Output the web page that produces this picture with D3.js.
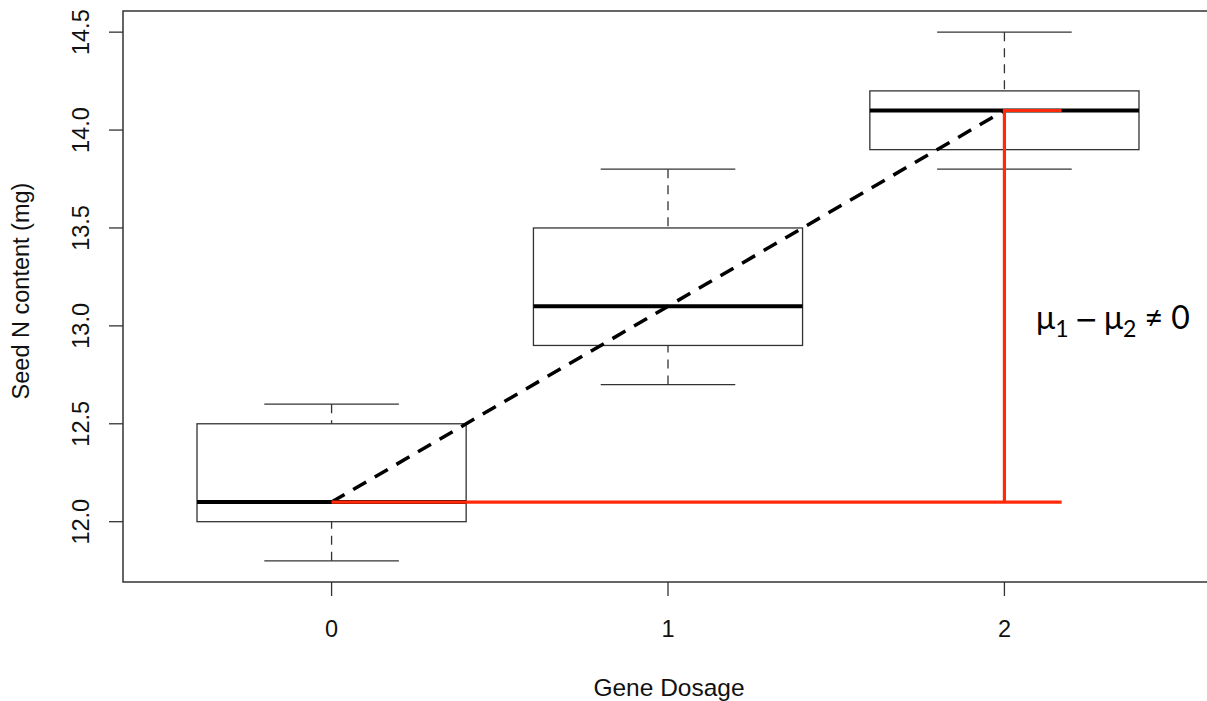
<!DOCTYPE html>
<html>
<head>
<meta charset="utf-8">
<script src="https://cdn.jsdelivr.net/npm/d3@7"></script>
<style>
    body { margin: 0; background: #fff; }
    svg { display: block; }
    text { font-family: "Liberation Sans", Arial, sans-serif; fill: #111; }
</style>
</head>
<body>
<div id="chart"></div>
<script>
// box plot data, one entry per gene dosage
let dosage = [0, 1, 2];
let whiskerLow = [11.8, 12.7, 13.8];
let q1 = [12.0, 12.9, 13.9];
let medians = [12.1, 13.1, 14.1];
let q3 = [12.5, 13.5, 14.2];
let whiskerHigh = [12.6, 13.8, 14.5];

let yTicks = [12.0, 12.5, 13.0, 13.5, 14.0, 14.5];
let redEnd = 2.17;   // where the red bracket stops on the x axis

let width = 1207, height = 701;

let svg = d3.select("#chart").append("svg")
    .attr("width", width)
    .attr("height", height);

// R style extended ranges (4%)
function extend(lo, hi) {
    let d = (hi - lo) * 0.04;
    return [lo - d, hi + d];
}

let x = d3.scaleLinear()
    .domain(extend(dosage[0] - 0.5, dosage[dosage.length - 1] + 0.5))
    .range([123, 1213]);

let y = d3.scaleLinear()
    .domain(extend(d3.min(whiskerLow), d3.max(whiskerHigh)))
    .range([582, 11]);

let boxes = dosage.map((d, i) => ({
    x: d, lo: whiskerLow[i], q1: q1[i], med: medians[i], q3: q3[i], hi: whiskerHigh[i]
}));

let boxHalf = 0.4, capHalf = 0.2;
let lineCol = "#333";

let g = svg.append("g");

// whiskers (dashed)
g.selectAll(".whiskerLo").data(boxes).enter().append("line")
    .attr("x1", d => x(d.x)).attr("x2", d => x(d.x))
    .attr("y1", d => y(d.lo)).attr("y2", d => y(d.q1))
    .attr("stroke", lineCol).attr("stroke-width", 1.3)
    .attr("stroke-dasharray", "9,7");
g.selectAll(".whiskerHi").data(boxes).enter().append("line")
    .attr("x1", d => x(d.x)).attr("x2", d => x(d.x))
    .attr("y1", d => y(d.hi)).attr("y2", d => y(d.q3))
    .attr("stroke", lineCol).attr("stroke-width", 1.3)
    .attr("stroke-dasharray", "9,7");

// caps
["lo", "hi"].forEach(k => {
    g.selectAll(".cap" + k).data(boxes).enter().append("line")
        .attr("x1", d => x(d.x - capHalf)).attr("x2", d => x(d.x + capHalf))
        .attr("y1", d => y(d[k])).attr("y2", d => y(d[k]))
        .attr("stroke", lineCol).attr("stroke-width", 1.3);
});

// boxes
g.selectAll(".box").data(boxes).enter().append("rect")
    .attr("x", d => x(d.x - boxHalf))
    .attr("width", d => x(d.x + boxHalf) - x(d.x - boxHalf))
    .attr("y", d => y(d.q3))
    .attr("height", d => y(d.q1) - y(d.q3))
    .attr("fill", "none")
    .attr("stroke", lineCol).attr("stroke-width", 1.3);

// medians
g.selectAll(".median").data(boxes).enter().append("line")
    .attr("x1", d => x(d.x - boxHalf)).attr("x2", d => x(d.x + boxHalf))
    .attr("y1", d => y(d.med)).attr("y2", d => y(d.med))
    .attr("stroke", "#000").attr("stroke-width", 4);

// dashed trend line through the first and last medians
g.append("line")
    .attr("x1", x(dosage[0])).attr("y1", y(medians[0]))
    .attr("x2", x(dosage[2])).attr("y2", y(medians[2]))
    .attr("stroke", "#000").attr("stroke-width", 3.5)
    .attr("stroke-dasharray", "15,10");

// red bracket
let red = "#ff2a0a";
g.append("path")
    .attr("d", d3.line()([
        [x(dosage[0]), y(medians[0])],
        [x(redEnd), y(medians[0])]
    ]))
    .attr("stroke", red).attr("stroke-width", 3.2).attr("fill", "none");
g.append("path")
    .attr("d", d3.line()([
        [x(dosage[2]), y(medians[0])],
        [x(dosage[2]), y(medians[2])],
        [x(redEnd), y(medians[2])]
    ]))
    .attr("stroke", red).attr("stroke-width", 3.2).attr("fill", "none");

// annotation
let ann = svg.append("text")
    .attr("x", 1036).attr("y", 329)
    .style("font-family", "Lato, 'Open Sans', sans-serif")
    .style("font-size", "32px")
    .style("fill", "#000");
ann.append("tspan").text("\u03bc");
ann.append("tspan").attr("dy", 8).style("font-size", "23px").text("1");
ann.append("tspan").attr("dy", -8).attr("dx", 6)
    .style("font-family", "'DejaVu Sans', sans-serif").style("font-size", "28px")
    .text("\u2212");
ann.append("tspan").attr("dx", 6).text("\u03bc");
ann.append("tspan").attr("dy", 8).style("font-size", "23px").text("2");
ann.append("tspan").attr("dy", -8).text(" \u2260 0");

// frame (right side falls outside the picture)
svg.append("rect")
    .attr("x", x.range()[0]).attr("y", y.range()[1])
    .attr("width", x.range()[1] - x.range()[0])
    .attr("height", y.range()[0] - y.range()[1])
    .attr("fill", "none").attr("stroke", lineCol).attr("stroke-width", 1.5);

// y axis
let yAxis = svg.append("g");
yAxis.selectAll("line").data(yTicks).enter().append("line")
    .attr("x1", 109).attr("x2", 123)
    .attr("y1", d => y(d)).attr("y2", d => y(d))
    .attr("stroke", lineCol).attr("stroke-width", 1.3);
yAxis.selectAll("text").data(yTicks).enter().append("text")
    .attr("transform", d => `translate(89, ${y(d)}) rotate(-90)`)
    .attr("text-anchor", "middle")
    .style("font-size", "23.5px")
    .text(d => d3.format(".1f")(d));

// x axis
let xAxis = svg.append("g");
xAxis.selectAll("line").data(dosage).enter().append("line")
    .attr("x1", d => x(d)).attr("x2", d => x(d))
    .attr("y1", 582).attr("y2", 596)
    .attr("stroke", lineCol).attr("stroke-width", 1.3);
xAxis.selectAll("text").data(dosage).enter().append("text")
    .attr("x", d => x(d)).attr("y", 637)
    .attr("text-anchor", "middle")
    .style("font-size", "23.5px")
    .text(d => d);

// axis titles
svg.append("text")
    .attr("x", 669).attr("y", 696)
    .attr("text-anchor", "middle")
    .style("font-size", "24.5px")
    .text("Gene Dosage");

svg.append("text")
    .attr("transform", "translate(29, 291) rotate(-90)")
    .attr("text-anchor", "middle")
    .style("font-size", "23.5px")
    .text("Seed N content (mg)");
</script>
</body>
</html>
